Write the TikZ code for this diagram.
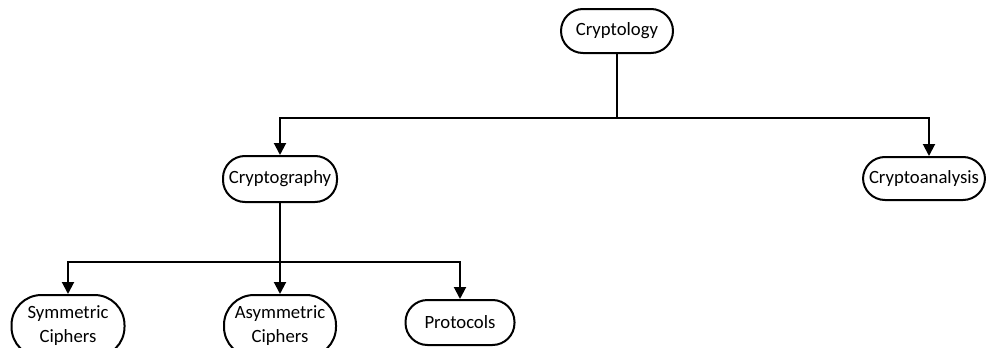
\documentclass[tikz,border=0pt]{standalone}
\usepackage{fontspec}
\setmainfont{Carlito}
\usetikzlibrary{arrows.meta}
\begin{document}
\begin{tikzpicture}[x=1pt,y=-1pt,
  term/.style={draw, line width=2pt, rounded corners=22pt, inner sep=0pt,
    align=center, font=\fontsize{18.7}{24}\selectfont},
  tallterm/.style={term, rounded corners=30pt},
  link/.style={line width=2pt},
  arr/.style={line width=2pt, -{Triangle[length=12pt,width=12pt]}}]
\useasboundingbox (0,0) rectangle (986,348);

% nodes
\node[term, minimum width=112pt, minimum height=44pt] (cryptology) at (617,31) {Cryptology};
\node[term, minimum width=114pt, minimum height=46pt] (cryptography) at (280,179) {Cryptography};
\node[term, minimum width=122pt, minimum height=43pt] (cryptoanalysis) at (924,178.5) {Cryptoanalysis};
\node[tallterm, minimum width=113pt, minimum height=62pt] (symmetric) at (68,326) {Symmetric\\Ciphers};
\node[tallterm, minimum width=112pt, minimum height=62pt] (asymmetric) at (280,326) {Asymmetric\\Ciphers};
\node[term, minimum width=109pt, minimum height=45pt] (protocols) at (460,322.5) {Protocols};

% bus junctions
\coordinate (busA) at (617,118);
\coordinate (busB) at (280,262);

% connectors from Cryptology
\draw[link] (cryptology.south) -- (busA);
\draw[arr] (busA) -| (cryptography.north);
\draw[arr] (busA) -| ([xshift=5pt]cryptoanalysis.north);

% connectors from Cryptography
\draw[link] (cryptography.south) -- (busB);
\draw[arr] (busB) -| (symmetric.north);
\draw[arr] (busB) -- (asymmetric.north);
\draw[arr] (busB) -| (protocols.north);
\end{tikzpicture}
\end{document}
